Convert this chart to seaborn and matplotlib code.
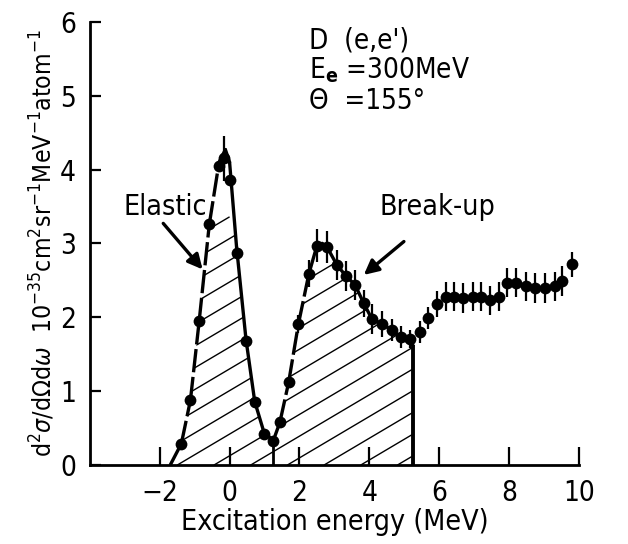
import numpy as np
import matplotlib
matplotlib.use("Agg")
import matplotlib.pyplot as plt
import seaborn as sns
from matplotlib.patches import Polygon
from matplotlib.collections import LineCollection

# measured points - elastic peak
elastic_x = [-1.38, -1.12, -0.87, -0.58, -0.30, -0.15, 0.00, 0.20, 0.47, 0.72, 0.98, 1.25]
elastic_y = [0.29, 0.88, 1.95, 3.26, 4.05, 4.15, 3.86, 2.87, 1.68, 0.86, 0.42, 0.33]
elastic_err = [0, 0, 0, 0, 0, 0.30, 0, 0, 0, 0, 0, 0]

# measured points - break-up and continuum
breakup_x = [1.44, 1.69, 1.97, 2.27, 2.50, 2.79, 3.07, 3.33, 3.59, 3.84, 4.07, 4.36,
             4.64, 4.90, 5.17, 5.44, 5.69, 5.94, 6.18, 6.42, 6.69, 6.96, 7.20, 7.44,
             7.71, 7.93, 8.21, 8.48, 8.74, 9.04, 9.30, 9.52, 9.81]
breakup_y = [0.58, 1.12, 1.91, 2.59, 2.97, 2.95, 2.71, 2.56, 2.44, 2.19, 1.98, 1.91,
             1.83, 1.73, 1.71, 1.80, 1.99, 2.18, 2.28, 2.28, 2.26, 2.28, 2.28, 2.23,
             2.28, 2.47, 2.47, 2.42, 2.40, 2.40, 2.42, 2.49, 2.72]
breakup_err = [0, 0.05, 0.12, 0.18, 0.22, 0.22, 0.20, 0.20, 0.20, 0.18, 0.20, 0.18,
               0.15, 0.15, 0.12, 0.15, 0.15, 0.18, 0.20, 0.20, 0.20, 0.20, 0.20, 0.20,
               0.20, 0.20, 0.20, 0.20, 0.20, 0.20, 0.20, 0.20, 0.17]

# hand drawn curve through the peaks
curve_x = [-1.70, -1.38, -1.12, -0.87, -0.58, -0.30, -0.12, 0.00, 0.20, 0.47, 0.72,
           0.98, 1.25, 1.44, 1.69, 1.97, 2.27, 2.50, 2.65, 2.79, 3.07, 3.33, 3.59,
           3.84, 4.07, 4.36, 4.64, 4.90, 5.25]
curve_y = [0.00, 0.29, 0.88, 1.95, 3.26, 4.10, 4.27, 4.10, 2.95, 1.70, 0.86,
           0.45, 0.33, 0.58, 1.12, 1.91, 2.59, 2.97, 3.00, 2.95, 2.71, 2.56, 2.44,
           2.19, 1.98, 1.91, 1.83, 1.73, 1.62]
curve_dashed = [True, True, True, True, True, True, False, False, False, False, False,
                False, False, True, True, True, True, False, False, False, False, False, False,
                False, False, False, False, False, False]

x_ticks = [-2, 0, 2, 4, 6, 8, 10]
y_ticks = [0, 1, 2, 3, 4, 5, 6]

sns.set_style("ticks")
plt.rcParams["font.family"] = ["DejaVu Sans"]
plt.rcParams["font.stretch"] = "condensed"
plt.rcParams["mathtext.fontset"] = "dejavusans"
plt.rcParams["text.color"] = "black"
plt.rcParams["axes.labelcolor"] = "black"
plt.rcParams["xtick.color"] = "black"
plt.rcParams["ytick.color"] = "black"
plt.rcParams["axes.edgecolor"] = "black"

fig = plt.figure(figsize=(6.28, 5.44), dpi=100)
ax = fig.add_axes([0.143, 0.145, 0.779, 0.815])

# hatched area under the curve
poly = Polygon(list(zip(curve_x, curve_y)) + [(curve_x[-1], 0), (curve_x[0], 0)],
               closed=True, fill=False, edgecolor="none")
ax.add_patch(poly)
slope = 0.28
segs = [[(c, 0), (c + 12, slope * 12)] for c in np.arange(-12.0, 5.3, 1.05)]
hatch = LineCollection(segs, colors="black", linewidths=1.0)
ax.add_collection(hatch)
hatch.set_clip_path(poly)

ax.vlines([curve_x[12], curve_x[-1]], 0, [curve_y[12], curve_y[-1]],
          colors="black", linewidths=[2.0, 2.8])

# curve, dashed on rising flanks
cx = np.array(curve_x)
cy = np.array(curve_y)
cd = np.array(curve_dashed)
for i in range(len(cx) - 1):
    ls = (0, (7, 1.4)) if cd[i] and cd[i + 1] else "-"
    ax.plot(cx[i:i + 2], cy[i:i + 2], color="black", lw=2.4, linestyle=ls,
            solid_capstyle="round")

# data points with error bars
ax.errorbar(elastic_x, elastic_y, yerr=elastic_err, fmt="none", ecolor="black", elinewidth=1.6)
ax.errorbar(breakup_x, breakup_y, yerr=breakup_err, fmt="none", ecolor="black", elinewidth=1.6)
sns.scatterplot(x=elastic_x + breakup_x, y=elastic_y + breakup_y, color="black",
                s=72, edgecolor="black", linewidth=0, ax=ax, zorder=5)

# annotations
ax.text(-1.85, 3.49, "Elastic", fontsize=20.5, ha="center", va="center")
ax.annotate("", xy=(-0.72, 2.62), xytext=(-1.95, 3.30),
            arrowprops=dict(arrowstyle="-|>", color="black", lw=2.4, mutation_scale=22))
ax.text(5.95, 3.49, "Break-up", fontsize=20.5, ha="center", va="center")
ax.annotate("", xy=(3.78, 2.55), xytext=(5.05, 3.05),
            arrowprops=dict(arrowstyle="-|>", color="black", lw=2.4, mutation_scale=22))

ax.text(2.28, 5.74, "D  (e,e')", fontsize=20, va="center")
ax.text(2.28, 5.34, r"E$_\mathbf{e}$ =300MeV", fontsize=20, va="center")
ax.text(2.28, 4.93, "\u0398  =155\u00b0", fontsize=20, va="center")

ax.set_xlim(-4, 10)
ax.set_ylim(0, 6)
ax.set_xticks(x_ticks)
ax.set_yticks(y_ticks)
ax.tick_params(axis="x", direction="in", length=13, width=1.6, labelsize=20, pad=10)
ax.tick_params(axis="y", direction="in", length=8, width=1.6, labelsize=20, pad=10)
for s in ["left", "bottom"]:
    ax.spines[s].set_linewidth(2.0)
sns.despine(ax=ax)

ax.set_xlabel("Excitation energy (MeV)", fontsize=20.5, labelpad=1)
ax.set_ylabel(r"d$^2\sigma$/d$\Omega$d$\omega$  10$^{-35}$cm$^2$sr$^{-1}$MeV$^{-1}$atom$^{-1}$",
              fontsize=17.7, labelpad=2)

fig.savefig("out.png", dpi=100)
